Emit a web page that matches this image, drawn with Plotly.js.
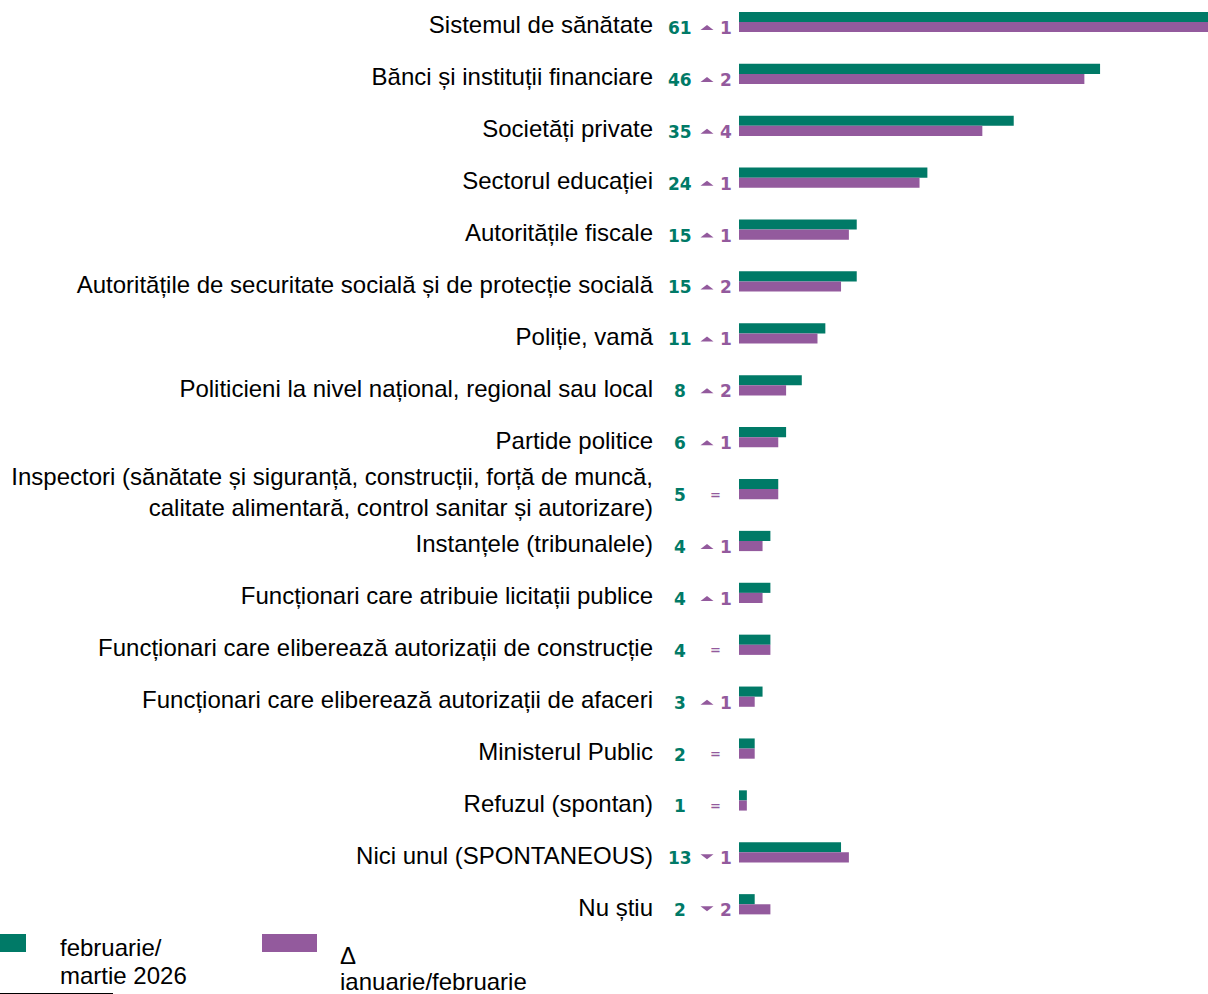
<!DOCTYPE html>
<html><head><meta charset="utf-8">
<script src="https://cdn.plot.ly/plotly-3.0.1.min.js"></script>
<style>html,body{margin:0;padding:0;background:#fff;overflow:hidden}#chart{width:1208px;height:994px}</style>
</head><body><div id="chart"></div>
<script>
const categories = [
  "Sistemul de sănătate",
  "Bănci și instituții financiare",
  "Societăți private",
  "Sectorul educației",
  "Autoritățile fiscale",
  "Autoritățile de securitate socială și de protecție socială",
  "Poliție, vamă",
  "Politicieni la nivel național, regional sau local",
  "Partide politice",
  "Inspectori (sănătate și siguranță, construcții, forță de muncă,<br>calitate alimentară, control sanitar și autorizare)",
  "Instanțele (tribunalele)",
  "Funcționari care atribuie licitații publice",
  "Funcționari care eliberează autorizații de construcție",
  "Funcționari care eliberează autorizații de afaceri",
  "Ministerul Public",
  "Refuzul (spontan)",
  "Nici unul (SPONTANEOUS)",
  "Nu știu"
];
const currentValues = [61, 46, 35, 24, 15, 15, 11, 8, 6, 5, 4, 4, 4, 3, 2, 1, 13, 2];
const previousValues = [60, 44, 31, 23, 14, 13, 10, 6, 5, 5, 3, 3, 4, 2, 2, 1, 14, 4];
const deltaValues = [1, 2, 4, 1, 1, 2, 1, 2, 1, 0, 1, 1, 0, 1, 0, 0, -1, -2];
const legendLines1 = ["februarie/", "martie 2026"];
const legendLines2 = ["Δ", "ianuarie/februarie"];

const GREEN = "#007a67", PURPLE = "#935a9d";
const W = 1208, H = 994, L = 739, B = 64;
const plotW = W - L, plotH = H - B;
const px = p => (p - L) / plotW;
const py = p => (plotH - p) / plotH;

const traces = [
  {type: "bar", orientation: "h", y: categories, x: currentValues, name: legendLines1.join(" "),
   marker: {color: GREEN}, width: 0.195, offset: -0.195, showlegend: false, hoverinfo: "x+y"},
  {type: "bar", orientation: "h", y: categories, x: previousValues, name: legendLines2.join(" "),
   marker: {color: PURPLE}, width: 0.195, offset: 0, showlegend: false, hoverinfo: "x+y"}
];

const annotations = [];
const shapes = [];
const valFont = {family: "DejaVu Sans", size: 17, weight: "bold"};
categories.forEach((c, i) => {
  annotations.push({xref: "paper", yref: "y", x: px(679.5), y: c, text: String(currentValues[i]),
    showarrow: false, xanchor: "center", yanchor: "middle", yshift: -6,
    font: Object.assign({}, valFont, {color: GREEN})});
  const d = deltaValues[i];
  if (d === 0) {
    annotations.push({xref: "paper", yref: "y", x: px(715), y: c, text: "=",
      showarrow: false, xanchor: "center", yanchor: "middle", yshift: -5,
      font: Object.assign({}, valFont, {color: PURPLE, size: 13})});
  } else {
    shapes.push({type: "path", xref: "paper", yref: "y", xsizemode: "pixel", ysizemode: "pixel",
      xanchor: px(707), yanchor: c,
      path: d > 0 ? "M -6.5 -8 L 6.5 -8 L 0 -3 Z" : "M -6.5 -2 L 6.5 -2 L 0 -7 Z",
      fillcolor: PURPLE, line: {width: 0}});
    annotations.push({xref: "paper", yref: "y", x: px(725.5), y: c, text: String(Math.abs(d)),
      showarrow: false, xanchor: "center", yanchor: "middle", yshift: -6,
      font: Object.assign({}, valFont, {color: PURPLE})});
  }
});

const legFont = {family: "Liberation Sans, Arial, sans-serif", size: 24, color: "#000"};
[[legendLines1, 58, 947, 28], [legendLines2, 338, 955, 26]].forEach(([lines, x, y0, step]) => {
  lines.forEach((t, j) => {
    annotations.push({xref: "paper", yref: "paper", x: px(x), y: py(y0 + step * j), text: t,
      showarrow: false, xanchor: "left", yanchor: "middle", align: "left", font: legFont});
  });
});

shapes.push(
  {type: "rect", xref: "paper", yref: "paper", x0: px(-29), x1: px(26), y0: py(952), y1: py(934),
   fillcolor: GREEN, line: {width: 0}},
  {type: "rect", xref: "paper", yref: "paper", x0: px(262), x1: px(317), y0: py(952), y1: py(934),
   fillcolor: PURPLE, line: {width: 0}},
  {type: "line", xref: "paper", yref: "paper", x0: px(0), x1: px(113), y0: py(993.5), y1: py(993.5),
   line: {color: "#000", width: 1}}
);

const layout = {
  width: W, height: H,
  margin: {l: L, r: 0, t: 0, b: B, pad: 0},
  paper_bgcolor: "#fff", plot_bgcolor: "#fff",
  barmode: "overlay",
  xaxis: {range: [0, 59.75], showgrid: false, zeroline: false, showticklabels: false,
    showline: false, ticks: "", fixedrange: true},
  yaxis: {type: "category", categoryarray: categories, categoryorder: "array",
    range: [17.496, -0.424], showgrid: false, zeroline: false, showline: false, ticks: "",
    ticklabelstandoff: 85, ticklabelshift: -3, automargin: false,
    tickfont: {family: "Liberation Sans, Arial, sans-serif", size: 24, color: "#000"}},
  annotations: annotations,
  shapes: shapes,
  showlegend: false
};

Plotly.newPlot("chart", traces, layout, {displayModeBar: false, staticPlot: true});
</script>
</body></html>
